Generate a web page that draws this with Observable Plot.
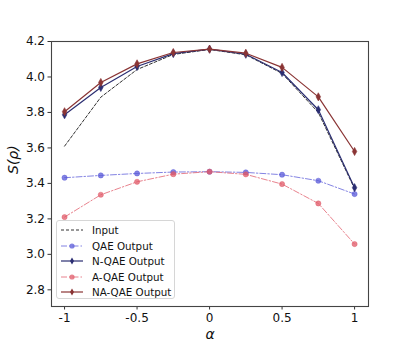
<!DOCTYPE html>
<html><head><meta charset="utf-8">
<script src="https://cdn.jsdelivr.net/npm/d3@7"></script>
<script src="https://cdn.jsdelivr.net/npm/@observablehq/plot@0.6"></script>
<style>
body{margin:0;background:#fff;font-family:"DejaVu Sans",sans-serif;}
#wrap{position:relative;width:409px;height:345px;}
#legend{position:absolute;left:56px;top:220px;width:119px;height:79px;box-sizing:border-box;border:1px solid #d6d6d6;border-radius:3px;background:rgba(255,255,255,0.85);}
#legend .row{position:absolute;left:3px;height:14px;display:flex;align-items:center;font-size:10.3px;color:#111;white-space:nowrap;}
#legend svg{margin-right:8px;}
</style>
</head><body><div id="wrap"><div id="legend"></div></div>
<script>
const alpha = [-1, -0.75, -0.5, -0.25, 0, 0.25, 0.5, 0.75, 1];
const inputS = [3.610, 3.886, 4.042, 4.127, 4.155, 4.125, 4.020, 3.800, 3.370];
const qaeS   = [3.432, 3.445, 3.456, 3.464, 3.466, 3.462, 3.449, 3.415, 3.340];
const nqaeS  = [3.787, 3.941, 4.059, 4.132, 4.157, 4.128, 4.025, 3.815, 3.376];
const aqaeS  = [3.210, 3.336, 3.409, 3.452, 3.466, 3.451, 3.396, 3.287, 3.058];
const naqaeS = [3.804, 3.969, 4.074, 4.138, 4.157, 4.134, 4.054, 3.888, 3.580];
const seriesNames = ["Input", "QAE Output", "N-QAE Output", "A-QAE Output", "NA-QAE Output"];
const seriesValues = [inputS, qaeS, nqaeS, aqaeS, naqaeS];
const yTicks = [2.8, 3.0, 3.2, 3.4, 3.6, 3.8, 4.0, 4.2];
const xTicks = [-1, -0.5, 0, 0.5, 1];
const xTickLabels = ["-1", "-0.5", "0", "0.5", "1"];

const thinDiamond = {draw(ctx, size){const h = Math.sqrt(size) * 0.72, w = h * 0.55;
  ctx.moveTo(0, -h); ctx.lineTo(w, 0); ctx.lineTo(0, h); ctx.lineTo(-w, 0); ctx.closePath();}};
const styles = [
  {stroke: "#000000", dash: "3,2", width: 0.9, opacity: 0.9, symbol: null},
  {stroke: "#5a5ad8", dash: "6,2,1.5,2", width: 1, opacity: 0.75, symbol: "circle"},
  {stroke: "#2b2e72", dash: null, width: 1.2, opacity: 1, symbol: thinDiamond},
  {stroke: "#e05a68", dash: "6,2,1.5,2", width: 1, opacity: 0.75, symbol: "circle"},
  {stroke: "#8a3434", dash: null, width: 1.2, opacity: 1, symbol: thinDiamond}
];

const table = seriesNames.map((name, i) => alpha.map((a, j) => ({series: name, alpha: a, S: seriesValues[i][j]})));

const marks = [];
table.forEach((rows, i) => {
  const s = styles[i];
  marks.push(Plot.line(rows, {x: "alpha", y: "S", stroke: s.stroke, strokeWidth: s.width, strokeOpacity: s.opacity, strokeDasharray: s.dash}));
  if (s.symbol) marks.push(Plot.dot(rows, {x: "alpha", y: "S", symbol: s.symbol, r: s.symbol === "circle" ? 2.6 : 3.2, fill: s.stroke, fillOpacity: s.opacity, stroke: s.stroke, strokeOpacity: s.opacity, strokeWidth: 0.6}));
});

const chart = Plot.plot({
  width: 409, height: 345,
  marginLeft: 51, marginRight: 41, marginTop: 41, marginBottom: 39,
  style: {fontFamily: "DejaVu Sans", fontSize: "12px", color: "#111", background: "white"},
  x: {domain: [-1.09, 1.096]},
  y: {domain: [2.706, 4.2]},
  marks: [
    Plot.axisX(xTicks, {tickSize: 3.5, tickPadding: 3, fontSize: 12, tickFormat: (d) => xTickLabels[xTicks.indexOf(d)], label: null, stroke: "#333"}),
    Plot.axisY(yTicks, {tickSize: 3.5, tickPadding: 3, fontSize: 12, tickFormat: d => d.toFixed(1), label: null, stroke: "#333"}),
    ...marks,
    Plot.frame({stroke: "#444", strokeWidth: 1.1}),
    Plot.text(["S(ρ)"], {frameAnchor: "left", dx: -38, rotate: -90, text: d => d, fontSize: 14, fontStyle: "italic", fill: "#111"}),
    Plot.text(["α"], {frameAnchor: "bottom", lineAnchor: "middle", dy: 28, text: d => d, fontSize: 14, fontStyle: "italic", fill: "#111"})
  ]
});
document.getElementById("wrap").prepend(chart);

// legend
const leg = d3.select("#legend");
seriesNames.forEach((name, i) => {
  const s = styles[i];
  const row = leg.append("div").attr("class", "row").style("top", (2 + i * 15.5) + "px");
  const sv = row.append("svg").attr("width", 24).attr("height", 12);
  sv.append("line").attr("x1", 1).attr("x2", 23).attr("y1", 6).attr("y2", 6)
    .attr("stroke", s.stroke).attr("stroke-width", s.width).attr("stroke-opacity", s.opacity)
    .attr("stroke-dasharray", s.dash);
  if (s.symbol === "circle") sv.append("circle").attr("cx", 12).attr("cy", 6).attr("r", 2.6).attr("fill", s.stroke).attr("fill-opacity", s.opacity);
  else if (s.symbol) sv.append("path").attr("transform", "translate(12,6)").attr("d", "M0,-3.6L2,0L0,3.6L-2,0Z").attr("fill", s.stroke);
  row.append("span").text(name);
});
</script></body></html>
